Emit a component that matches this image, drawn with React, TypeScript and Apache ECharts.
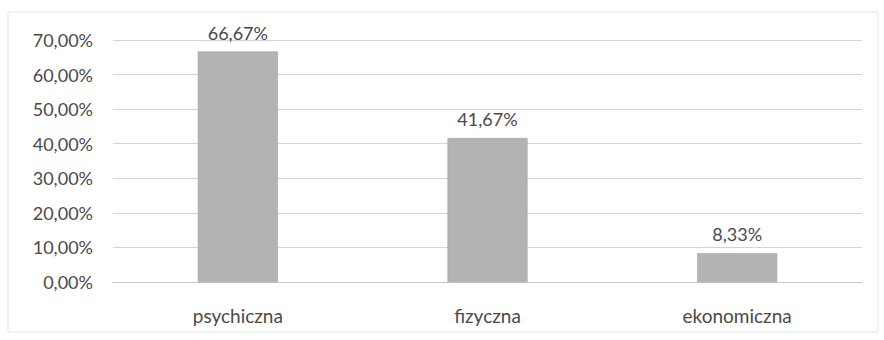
import React, { useEffect, useRef } from "react";
import * as echarts from "echarts";

const categories = ["psychiczna", "fizyczna", "ekonomiczna"];
const values = [66.67, 41.67, 8.33];
const yTicks = [0, 10, 20, 30, 40, 50, 60, 70];

const fmt = (v: number) => v.toFixed(2).replace(".", ",") + "%";

export default function App() {
  const ref = useRef<HTMLDivElement>(null);
  useEffect(() => {
    if (!ref.current) return;
    const chart = echarts.init(ref.current, undefined, { renderer: "svg" });
    const font = "Lato, 'Open Sans', sans-serif";
    const textColor = "#4a4a4a";
    chart.setOption({
      animation: false,
      backgroundColor: "#ffffff",
      grid: { left: 113, right: 22, top: 40, bottom: 58 },
      graphic: [
        {
          type: "rect",
          shape: { x: 8, y: 12, width: 870, height: 320 },
          style: { fill: "none", stroke: "#e2e2e2", lineWidth: 1 },
          silent: true,
        },
      ],
      xAxis: {
        type: "category",
        data: categories,
        axisLine: { show: true, lineStyle: { color: "#c8c8c8" } },
        axisTick: { show: false },
        axisLabel: {
          color: textColor,
          fontSize: 19,
          fontFamily: font,
          margin: 24,
        },
      },
      yAxis: {
        type: "value",
        min: yTicks[0],
        max: yTicks[yTicks.length - 1],
        interval: 10,
        axisLine: { show: false },
        axisTick: { show: false },
        splitLine: { lineStyle: { color: "#d4d4d4", width: 1 } },
        axisLabel: {
          color: textColor,
          fontSize: 18,
          fontFamily: font,
          margin: 20,
          formatter: (v: number) => fmt(v),
        },
      },
      series: [
        {
          type: "bar",
          data: values,
          barWidth: 80,
          itemStyle: { color: "#b3b3b3", borderColor: "#9a9a9a", borderWidth: 0.5 },
          label: {
            show: true,
            position: "top",
            distance: 10,
            color: textColor,
            fontSize: 18,
            fontFamily: font,
            formatter: (p: any) => fmt(p.value),
          },
        },
      ],
    });
    return () => chart.dispose();
  }, []);
  return (
    <div
      ref={ref}
      style={{ position: "fixed", left: 0, top: 0, width: 884, height: 340 }}
    />
  );
}
